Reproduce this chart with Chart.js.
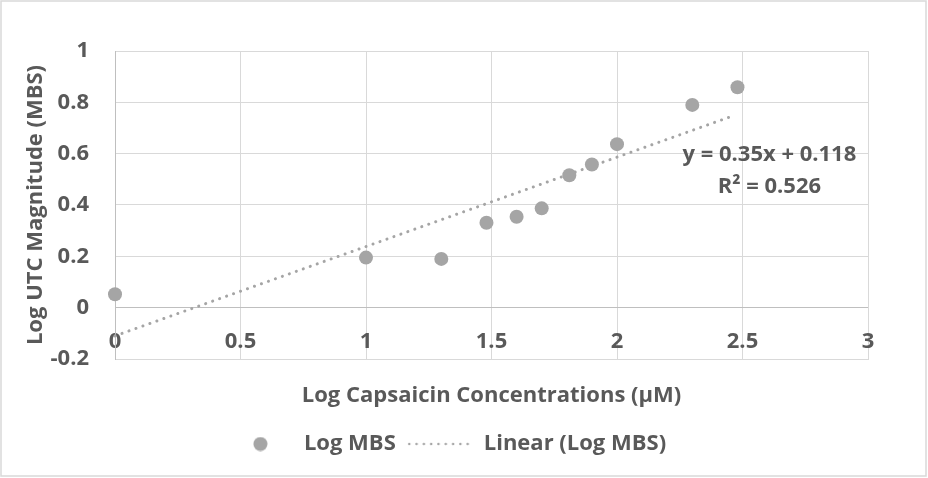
<!DOCTYPE html>
<html>
<head>
<meta charset="utf-8">
<script src="https://cdn.jsdelivr.net/npm/chart.js@4/dist/chart.umd.min.js"></script>
<style>
html, body { margin: 0; padding: 0; background: #fff; }
#area { width: 928px; height: 478px; position: relative; }
</style>
</head>
<body>
<div id="area"><canvas id="grafico"></canvas></div>
<script>
// dados
const logConc = [0, 1, 1.3, 1.48, 1.6, 1.7, 1.81, 1.9, 2, 2.3, 2.48]
const logMbs = [0.052, 0.195, 0.19, 0.331, 0.354, 0.387, 0.516, 0.558, 0.637, 0.79, 0.859]

// linha de tendência como aparece no desenho
const tendX = [0, 2.47]
const tendY = [-0.11, 0.75]

const xTicks = [0, 0.5, 1, 1.5, 2, 2.5, 3]
const yTicks = [-0.2, 0, 0.2, 0.4, 0.6, 0.8, 1]

const textoEquacao = ["y = 0.35x + 0.118", "R² = 0.526"]

const fonte = "'Open Sans', sans-serif"
const tamanho = 22
const corTexto = "#595959"
const corPonto = "#a5a5a5"
const corGrade = "#d9d9d9"
const corEixo = "#bfbfbf"


// fundo branco e moldura
const moldura = {
    id: "moldura",
    beforeDraw(chart){
        const ctx = chart.ctx
        ctx.save()
        ctx.fillStyle = "#fff"
        ctx.fillRect(0, 0, chart.width, chart.height)
        ctx.strokeStyle = corGrade
        ctx.lineWidth = 1.5
        ctx.strokeRect(1, 1, chart.width - 3, chart.height - 3)
        ctx.restore()
    }
}

// texto da equação da reta
const equacao = {
    id: "equacao",
    afterDatasetsDraw(chart){
        const ctx = chart.ctx
        const sx = chart.scales.x
        const sy = chart.scales.y
        ctx.save()
        ctx.font = "700 " + tamanho + "px " + fonte
        ctx.fillStyle = corTexto
        ctx.textAlign = "center"
        ctx.textBaseline = "middle"
        ctx.fillText(textoEquacao[0], sx.getPixelForValue(2.607), sy.getPixelForValue(0.595))
        ctx.fillText(textoEquacao[1], sx.getPixelForValue(2.607), sy.getPixelForValue(0.47))
        ctx.restore()
    }
}

// símbolos da legenda desenhados em canvas pequenos
function simboloPonto(){
    const c = document.createElement("canvas")
    c.width = 15
    c.height = 15
    const g = c.getContext("2d")
    g.fillStyle = corPonto
    g.beginPath()
    g.arc(7.5, 7.5, 7, 0, Math.PI * 2)
    g.fill()
    return c
}

function simboloLinha(){
    const c = document.createElement("canvas")
    c.width = 66
    c.height = 4
    const g = c.getContext("2d")
    g.strokeStyle = corPonto
    g.lineWidth = 2.4
    g.lineCap = "round"
    g.setLineDash([0.1, 7.2])
    g.beginPath()
    g.moveTo(2, 2)
    g.lineTo(64, 2)
    g.stroke()
    return c
}

const simbolos = [simboloPonto(), simboloLinha()]

const fmt = v => String(Math.round(v * 10) / 10)
const fonteBold = { family: fonte, size: tamanho, weight: 700 }

new Chart(document.getElementById("grafico").getContext("2d"), {

    type: "scatter",

    data: {
        datasets: [
            {
                label: "Log MBS",
                data: logConc.map((x, i) => ({x: x, y: logMbs[i]})),
                backgroundColor: corPonto,
                borderColor: corPonto,
                borderWidth: 0,
                pointRadius: 7,
                clip: false
            },
            {
                label: "Linear (Log MBS)",
                type: "line",
                data: tendX.map((x, i) => ({x: x, y: tendY[i]})),
                borderColor: corPonto,
                backgroundColor: corPonto,
                borderWidth: 3,
                borderDash: [0.1, 7.3],
                borderCapStyle: "round",
                pointRadius: 0,
                fill: false,
                clip: false
            }
        ]
    },

    options: {
        responsive: true,
        maintainAspectRatio: false,
        animation: false,
        layout: { padding: { left: 10, right: 44, top: 51, bottom: 13 } },
        scales: {
            x: {
                type: "linear",
                min: 0,
                max: 3,
                afterBuildTicks(s){ s.ticks = xTicks.map(v => ({value: v})) },
                afterFit(s){ s.height = 62 },
                ticks: {
                    mirror: true,
                    padding: 4,
                    color: corTexto,
                    font: fonteBold,
                    callback: fmt
                },
                grid: { color: corGrade, drawTicks: false },
                border: { color: corGrade },
                title: {
                    display: true,
                    text: "Log Capsaicin Concentrations (µM)",
                    color: corTexto,
                    font: fonteBold,
                    padding: { top: 0, bottom: 12 }
                }
            },
            y: {
                min: -0.2,
                max: 1,
                afterBuildTicks(s){ s.ticks = yTicks.map(v => ({value: v})) },
                afterFit(s){ s.width = 105 },
                ticks: {
                    padding: 26,
                    color: corTexto,
                    font: fonteBold,
                    callback: fmt
                },
                grid: {
                    drawTicks: false,
                    color: c => (c.tick && Math.abs(c.tick.value) < 1e-9) ? corEixo : corGrade
                },
                border: { color: corEixo },
                title: {
                    display: true,
                    text: "Log UTC Magnitude (MBS)",
                    color: corTexto,
                    font: fonteBold,
                    padding: { top: 13, bottom: 0 }
                }
            },
            direita: {
                position: "right",
                afterFit(s){ s.width = 16 },
                ticks: { display: false },
                grid: { display: false },
                border: { display: false }
            }
        },
        plugins: {
            legend: {
                position: "bottom",
                labels: {
                    usePointStyle: true,
                    pointStyleWidth: 65,
                    boxHeight: 10,
                    padding: 12,
                    color: corTexto,
                    font: fonteBold,
                    generateLabels(chart){
                        const itens = Chart.defaults.plugins.legend.labels.generateLabels(chart)
                        itens.forEach((it, i) => { it.pointStyle = simbolos[i] })
                        return itens
                    }
                }
            },
            tooltip: { enabled: false }
        }
    },

    plugins: [moldura, equacao]

})
</script>
</body>
</html>
